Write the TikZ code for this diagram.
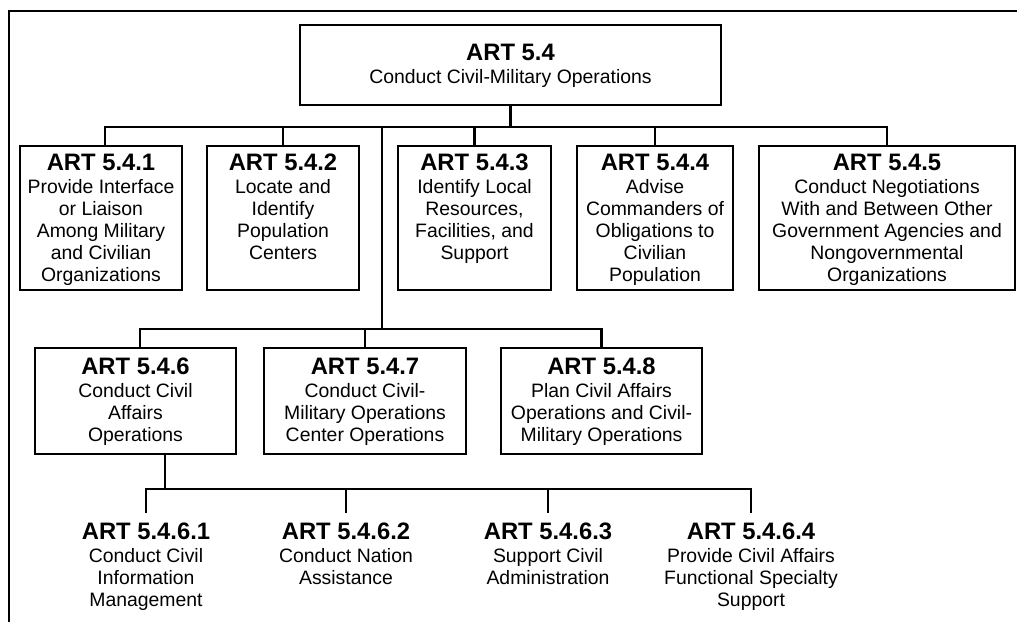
\documentclass[tikz,border=0pt]{standalone}
\usepackage{fontspec}
\setmainfont{Liberation Sans}
\newcommand{\ttl}[1]{{\fontsize{23.8}{24}\selectfont\bfseries #1}\\[1.3pt]}
\begin{document}
\begin{tikzpicture}[x=1pt,y=-1pt,
  box/.style={draw, line width=2.5pt, inner sep=0pt},
  txt/.style={align=center, inner sep=0pt, anchor=north, font=\fontsize{19.4}{22}\selectfont},
  leaf/.style={txt, outer ysep=10pt},
  conn/.style={line width=2.5pt}]
\useasboundingbox (0,0) rectangle (1017,622);
% frame
\draw[line width=2.4pt] (1017,11) -- (9,11) -- (9,622);
% boxes
\node[box, minimum width=421pt, minimum height=80pt] (top) at (510.5,65) {};
\node[box, minimum width=162pt, minimum height=144pt] (b1) at (101,218) {};
\node[box, minimum width=152pt, minimum height=144pt] (b2) at (283,218) {};
\node[box, minimum width=153pt, minimum height=144pt] (b3) at (474.5,218) {};
\node[box, minimum width=156pt, minimum height=144pt] (b4) at (655,218) {};
\node[box, minimum width=256pt, minimum height=144pt] (b5) at (887,218) {};
\node[box, minimum width=201pt, minimum height=106pt] (b6) at (135.5,401) {};
\node[box, minimum width=202pt, minimum height=106pt] (b7) at (365,401) {};
\node[box, minimum width=201pt, minimum height=106pt] (b8) at (601.5,401) {};
% texts in boxes
\node[txt] (ttop) at ([yshift=-20pt]top.north) {\ttl{ART 5.4}Conduct Civil-Military Operations};
\node[txt] (t1) at ([yshift=-9pt]b1.north) {\ttl{ART 5.4.1}Provide Interface\\or Liaison\\Among Military\\and Civilian\\Organizations};
\node[txt] (t2) at ([yshift=-9pt]b2.north) {\ttl{ART 5.4.2}Locate and\\Identify\\Population\\Centers};
\node[txt] (t3) at ([yshift=-9pt]b3.north) {\ttl{ART 5.4.3}Identify Local\\Resources,\\Facilities, and\\Support};
\node[txt] (t4) at ([yshift=-9pt]b4.north) {\ttl{ART 5.4.4}Advise\\Commanders of\\Obligations to\\Civilian\\Population};
\node[txt] (t5) at ([yshift=-9pt]b5.north) {\ttl{ART 5.4.5}Conduct Negotiations\\With and Between Other\\Government Agencies and\\Nongovernmental\\Organizations};
\node[txt] (t6) at ([yshift=-11pt]b6.north) {\ttl{ART 5.4.6}Conduct Civil\\Affairs\\Operations};
\node[txt] (t7) at ([yshift=-11pt]b7.north) {\ttl{ART 5.4.7}Conduct Civil-\\Military Operations\\Center Operations};
\node[txt] (t8) at ([yshift=-11pt]b8.north) {\ttl{ART 5.4.8}Plan Civil Affairs\\Operations and Civil-\\Military Operations};
% leaf items
\node[leaf] (r1) at (146,513) {\ttl{ART 5.4.6.1}Conduct Civil\\Information\\Management};
\node[leaf] (r2) at (346,513) {\ttl{ART 5.4.6.2}Conduct Nation\\Assistance};
\node[leaf] (r3) at (548,513) {\ttl{ART 5.4.6.3}Support Civil\\Administration};
\node[leaf] (r4) at (751,513) {\ttl{ART 5.4.6.4}Provide Civil Affairs\\Functional Specialty\\Support};
% connectors level 1
\coordinate (bus1) at (0,127);
\draw[conn] (top.south) -- (top.south |- bus1);
\draw[conn] ([xshift=4pt]b1.north) |- (b5.north |- bus1) -- (b5.north);
\draw[conn] (b2.north) -- (b2.north |- bus1);
\draw[conn] (b3.north) -- (b3.north |- bus1);
\draw[conn] (b4.north) -- (b4.north |- bus1);
% trunk to level 2
\coordinate (trunk) at (382,127);
\coordinate (bus2) at (0,329);
\draw[conn] (trunk) -- (trunk |- bus2);
\draw[conn] ([xshift=4.5pt]b6.north) |- (b8.north |- bus2) -- (b8.north);
\draw[conn] (b7.north) -- (b7.north |- bus2);
% level 3
\coordinate (bus3) at (0,489);
\draw[conn] ([xshift=29.5pt]b6.south) -- ([xshift=29.5pt]b6.south |- bus3);
\draw[conn] (r1.north) |- (r4.north |- bus3) -- (r4.north);
\draw[conn] (r2.north) -- (r2.north |- bus3);
\draw[conn] (r3.north) -- (r3.north |- bus3);
\end{tikzpicture}
\end{document}
